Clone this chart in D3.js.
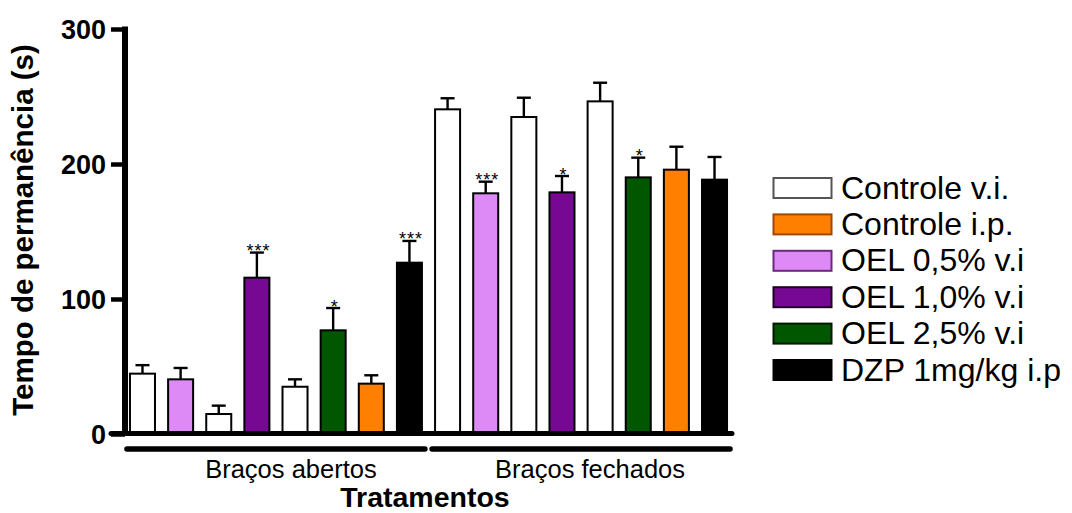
<!DOCTYPE html>
<html><head><meta charset="utf-8">
<script src="https://cdn.jsdelivr.net/npm/d3@7"></script>
<style>body{margin:0;background:#fff}svg{display:block}</style>
</head><body>
<script>
const groups = ["Braços abertos", "Braços fechados"];
const treatments = ["Controle v.i.", "OEL 0,5% v.i", "Controle v.i.", "OEL 1,0% v.i", "Controle v.i.", "OEL 2,5% v.i", "Controle i.p.", "DZP 1mg/kg i.p"];
const abertosMean = [44.7, 40.5, 14.8, 115.8, 35, 76.8, 37.3, 126.9];
const abertosErr = [6.3, 8.4, 6.2, 18.6, 5.5, 16.5, 6.2, 16.1];
const fechadosMean = [240.5, 178.3, 234.8, 179, 246.4, 190.1, 195.8, 188.4];
const fechadosErr = [8.2, 8.6, 14.3, 12.1, 13.8, 14.6, 17, 16.8];
const abertosSig = ["", "", "", "***", "", "*", "", "***"];
const fechadosSig = ["", "***", "", "*", "", "*", "", ""];
const legendNames = ["Controle v.i.", "Controle i.p.", "OEL 0,5% v.i", "OEL 1,0% v.i", "OEL 2,5% v.i", "DZP 1mg/kg i.p"];
const yTicks = [0, 100, 200, 300];

const FONT = "Liberation Sans, Arial, sans-serif";
const fills = {"Controle v.i.":"#ffffff","Controle i.p.":"#ff8000","OEL 0,5% v.i":"#de8af6","OEL 1,0% v.i":"#760893","OEL 2,5% v.i":"#005700","DZP 1mg/kg i.p":"#000000"};
const legStrokes = {"Controle v.i.":"#555","Controle i.p.":"#a04800","OEL 0,5% v.i":"#6a2a7a","OEL 1,0% v.i":"#200020","OEL 2,5% v.i":"#001800","DZP 1mg/kg i.p":"#000"};

const W = 1072, H = 513;
const svg = d3.select("body").append("svg").attr("width", W).attr("height", H);

const data = [];
groups.forEach((g, gi) => {
  const m = gi === 0 ? abertosMean : fechadosMean;
  const e = gi === 0 ? abertosErr : fechadosErr;
  const s = gi === 0 ? abertosSig : fechadosSig;
  treatments.forEach((t, i) => data.push({key: gi + "-" + i, group: g, t, v: m[i], err: e[i], sig: s[i]}));
});

const x = d3.scaleBand().domain(data.map(d => d.key)).range([117, 740]).paddingInner(0.344).paddingOuter(0.34);
const y = d3.scaleLinear().domain([0, 300]).range([434, 29]);

// bars
svg.append("g").selectAll("rect").data(data).join("rect")
  .attr("x", d => x(d.key)).attr("y", d => y(d.v))
  .attr("width", x.bandwidth()).attr("height", d => y(0) - y(d.v))
  .attr("fill", d => fills[d.t]).attr("stroke", "#000").attr("stroke-width", 2);

// error bars
const eb = svg.append("g").attr("stroke", "#000").attr("stroke-width", 2.4);
data.forEach(d => {
  const cx = x(d.key) + x.bandwidth() / 2;
  eb.append("line").attr("x1", cx).attr("x2", cx).attr("y1", y(d.v)).attr("y2", y(d.v + d.err));
  eb.append("line").attr("x1", cx - 7).attr("x2", cx + 7).attr("y1", y(d.v + d.err)).attr("y2", y(d.v + d.err));
});
// significance
svg.append("g").selectAll("text").data(data.filter(d => d.sig)).join("text")
  .attr("x", d => x(d.key) + x.bandwidth() / 2 + 1.5)
  .attr("y", d => y(d.v + d.err) + 4.5)
  .attr("text-anchor", "middle").attr("font-family", FONT)
  .attr("font-size", 18).attr("letter-spacing", 1).text(d => d.sig);

// y axis
const yAxis = d3.axisLeft(y).tickValues(yTicks).tickSize(14).tickPadding(5).tickFormat(d3.format("d"));
const ya = svg.append("g").attr("transform", "translate(125,0)").call(yAxis);
ya.select(".domain").attr("stroke-width", 6).attr("d", "M0,26.5V436");
ya.selectAll(".tick line").attr("stroke-width", 4.5);
ya.selectAll(".tick text").attr("font-family", FONT).attr("font-weight", "bold").attr("font-size", 27).attr("dy", "0.36em");

// x axis
svg.append("line").attr("x1", 111).attr("x2", 732).attr("y1", 433.5).attr("y2", 433.5)
  .attr("stroke", "#000").attr("stroke-width", 5).attr("stroke-linecap", "round");

// group lines and labels
const labelShift = [15, 9];
groups.forEach((g, gi) => {
  const keys = data.filter(d => d.group === g).map(d => d.key);
  const x0 = x(keys[0]) - 3, x1 = x(keys[keys.length - 1]) + x.bandwidth() + 3;
  svg.append("line").attr("x1", x0).attr("x2", x1).attr("y1", 449).attr("y2", 449)
    .attr("stroke", "#000").attr("stroke-width", 5.5).attr("stroke-linecap", "round");
  svg.append("text").attr("x", (x0 + x1) / 2 + labelShift[gi]).attr("y", 478).attr("text-anchor", "middle")
    .attr("font-family", FONT).attr("font-size", 25.5).text(g);
});

svg.append("text").attr("x", 425).attr("y", 507).attr("text-anchor", "middle")
  .attr("font-family", FONT).attr("font-weight", "bold").attr("font-size", 28.5).text("Tratamentos");

svg.append("text").attr("transform", "translate(33,230) rotate(-90)").attr("text-anchor", "middle")
  .attr("font-family", FONT).attr("font-weight", "bold").attr("font-size", 29.5).text("Tempo de permanência (s)");

// legend
const ly = d3.scalePoint().domain(legendNames).range([198.5, 380.5]);
const leg = svg.append("g");
legendNames.forEach(n => {
  const base = ly(n);
  leg.append("rect").attr("x", 773.5).attr("y", base - 20.5).attr("width", 58).attr("height", 20)
    .attr("fill", fills[n]).attr("stroke", legStrokes[n]).attr("stroke-width", 2);
  leg.append("text").attr("x", 841).attr("y", base).attr("font-family", FONT)
    .attr("font-size", 32).text(n);
});
</script>
</body></html>
